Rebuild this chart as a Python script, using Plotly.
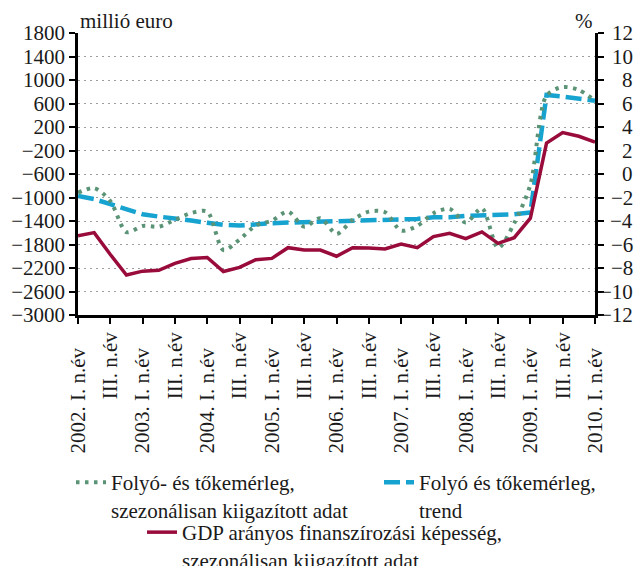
import plotly.graph_objects as go

# ---- data -------------------------------------------------------------
quarters = [
    "2002 Q1", "2002 Q2", "2002 Q3", "2002 Q4",
    "2003 Q1", "2003 Q2", "2003 Q3", "2003 Q4",
    "2004 Q1", "2004 Q2", "2004 Q3", "2004 Q4",
    "2005 Q1", "2005 Q2", "2005 Q3", "2005 Q4",
    "2006 Q1", "2006 Q2", "2006 Q3", "2006 Q4",
    "2007 Q1", "2007 Q2", "2007 Q3", "2007 Q4",
    "2008 Q1", "2008 Q2", "2008 Q3", "2008 Q4",
    "2009 Q1", "2009 Q2", "2009 Q3", "2009 Q4",
    "2010 Q1",
]

tick_labels = [
    "2002. I. n.év", "III. n.év", "2003. I. n.év", "III. n.év",
    "2004. I. n.év", "III. n.év", "2005. I. n.év", "III. n.év",
    "2006. I. n.év", "III. n.év", "2007. I. n.év", "III. n.év",
    "2008. I. n.év", "III. n.év", "2009. I. n.év", "III. n.év",
    "2010. I. n.év",
]

# Folyó- és tőkemérleg, szezonálisan kiigazított adat (millió euro)
current_capital_sa = [
    -920, -840, -1060, -1590, -1484, -1496, -1381, -1265,
    -1240, -1894, -1715, -1478, -1393, -1239, -1496, -1352,
    -1620, -1381, -1240, -1250, -1564, -1484, -1267, -1193,
    -1427, -1181, -1860, -1438, -780, 735, 880, 830,
    650,
]

# Folyó és tőkemérleg, trend (millió euro)
current_capital_trend = [
    -975, -1027, -1113, -1198, -1284, -1325, -1352, -1393,
    -1430, -1465, -1478, -1450, -1438, -1427, -1420, -1420,
    -1410, -1393, -1381, -1381, -1370, -1364, -1336, -1336,
    -1313, -1307, -1307, -1284, -1256, 745, 718, 689,
    648,
]

# GDP arányos finanszírozási képesség, szezonálisan kiigazított adat (%)
gdp_net_lending = [
    -5.25, -4.99, -6.85, -8.6, -8.27, -8.2, -7.6, -7.2,
    -7.1, -8.3, -7.95, -7.3, -7.18, -6.27, -6.47, -6.47,
    -7.0, -6.27, -6.3, -6.38, -5.96, -6.27, -5.33, -5.04,
    -5.5, -4.93, -5.9, -5.42, -3.76, 2.63, 3.53, 3.21,
    2.72,
]

right_ticks = [12, 10, 8, 6, 4, 2, 0, -2, -4, -6, -8, -10, -12]

# ---- styling ----------------------------------------------------------
FONT = "Liberation Serif, Times New Roman, serif"
FS = 21
TXT = "#1a1a1a"
GREEN = "#5b9376"
BLUE = "#17a3d0"
RED = "#990b3b"

tick_positions = quarters[::2]
# "I." labels sit a little lower than "III." labels in the original
tick_text = [t + "\u00a0\u00a0\u00a0" if t.startswith("20") else t for t in tick_labels]

fig = go.Figure()

fig.add_trace(go.Scatter(
    x=quarters, y=current_capital_trend, mode="lines",
    name="Folyó és tőkemérleg,<br>trend",
    line=dict(color=BLUE, width=4.5, dash="16px,6px"),
    legend="legend2",
))
fig.add_trace(go.Scatter(
    x=quarters, y=current_capital_sa, mode="lines",
    name="Folyó- és tőkemérleg,<br>szezonálisan kiigazított adat",
    line=dict(color=GREEN, width=4, dash="3.5px,5.5px", shape="spline", smoothing=0.8),
    legend="legend",
))
fig.add_trace(go.Scatter(
    x=quarters, y=gdp_net_lending, mode="lines",
    name="GDP arányos finanszírozási képesség,<br>szezonálisan kiigazított adat",
    line=dict(color=RED, width=3.5),
    yaxis="y2", legend="legend3",
))

axis_font = dict(family=FONT, size=FS, color=TXT)

legend_common = dict(xanchor="left", yanchor="top", xref="container", yref="container",
                     valign="top", bgcolor="rgba(0,0,0,0)", font=axis_font, itemwidth=30)

fig.update_layout(
    width=638, height=566,
    margin=dict(l=78, r=43, t=33, b=251, pad=0, autoexpand=False),
    paper_bgcolor="white", plot_bgcolor="white",
    font=dict(family=FONT, size=FS, color=TXT),
    xaxis=dict(
        type="category", categoryorder="array", categoryarray=quarters,
        range=[0, len(quarters) - 1],
        tickmode="array", tickvals=tick_positions, ticktext=tick_text,
        tickangle=-90, tickfont=axis_font,
        showline=True, linecolor="black", linewidth=2.5,
        ticks="outside", ticklen=6, tickwidth=2, tickcolor="black",
        showgrid=False, zeroline=False, automargin=False,
    ),
    yaxis=dict(
        range=[-3000, 1800], tick0=-3000, dtick=400,
        tickfont=axis_font,
        showline=True, linecolor="black", linewidth=2.5,
        ticks="outside", ticklen=6, tickwidth=2, tickcolor="black",
        showgrid=True, gridcolor="#9d9d9d", gridwidth=1, griddash="2px,4px",
        zeroline=False, automargin=False,
    ),
    yaxis2=dict(
        range=[-12, 12], tick0=-12, dtick=2,
        overlaying="y", side="right",
        showticklabels=False,
        showline=True, linecolor="black", linewidth=2.5,
        ticks="outside", ticklen=6, tickwidth=2, tickcolor="black",
        showgrid=False, zeroline=False, automargin=False,
    ),
    showlegend=True,
    legend=dict(x=71 / 638, y=1 - 462 / 566, **legend_common),
    legend2=dict(x=379 / 638, y=1 - 462 / 566, **legend_common),
    legend3=dict(x=142 / 638, y=1 - 512 / 566, **legend_common),
)

# right axis labels, right aligned like the original
for v in right_ticks:
    fig.add_annotation(
        x=1.0774, xref="paper", xanchor="right",
        y=v, yref="y2", yanchor="middle",
        text=(f"\u2212{abs(v)}" if v < 0 else str(v)),
        showarrow=False, font=axis_font,
    )

fig.add_annotation(x=0, xref="paper", xanchor="left", y=1, yref="paper",
                   yanchor="bottom", yshift=-2, text="millió euro",
                   showarrow=False, font=axis_font)
fig.add_annotation(x=1, xref="paper", xanchor="right", y=1, yref="paper",
                   yanchor="bottom", yshift=-2, text="%",
                   showarrow=False, font=axis_font)

fig.write_html(
    "out.html",
    config={"displayModeBar": False},
    post_script="document.body.style.margin='0';document.body.style.overflow='hidden';",
)
